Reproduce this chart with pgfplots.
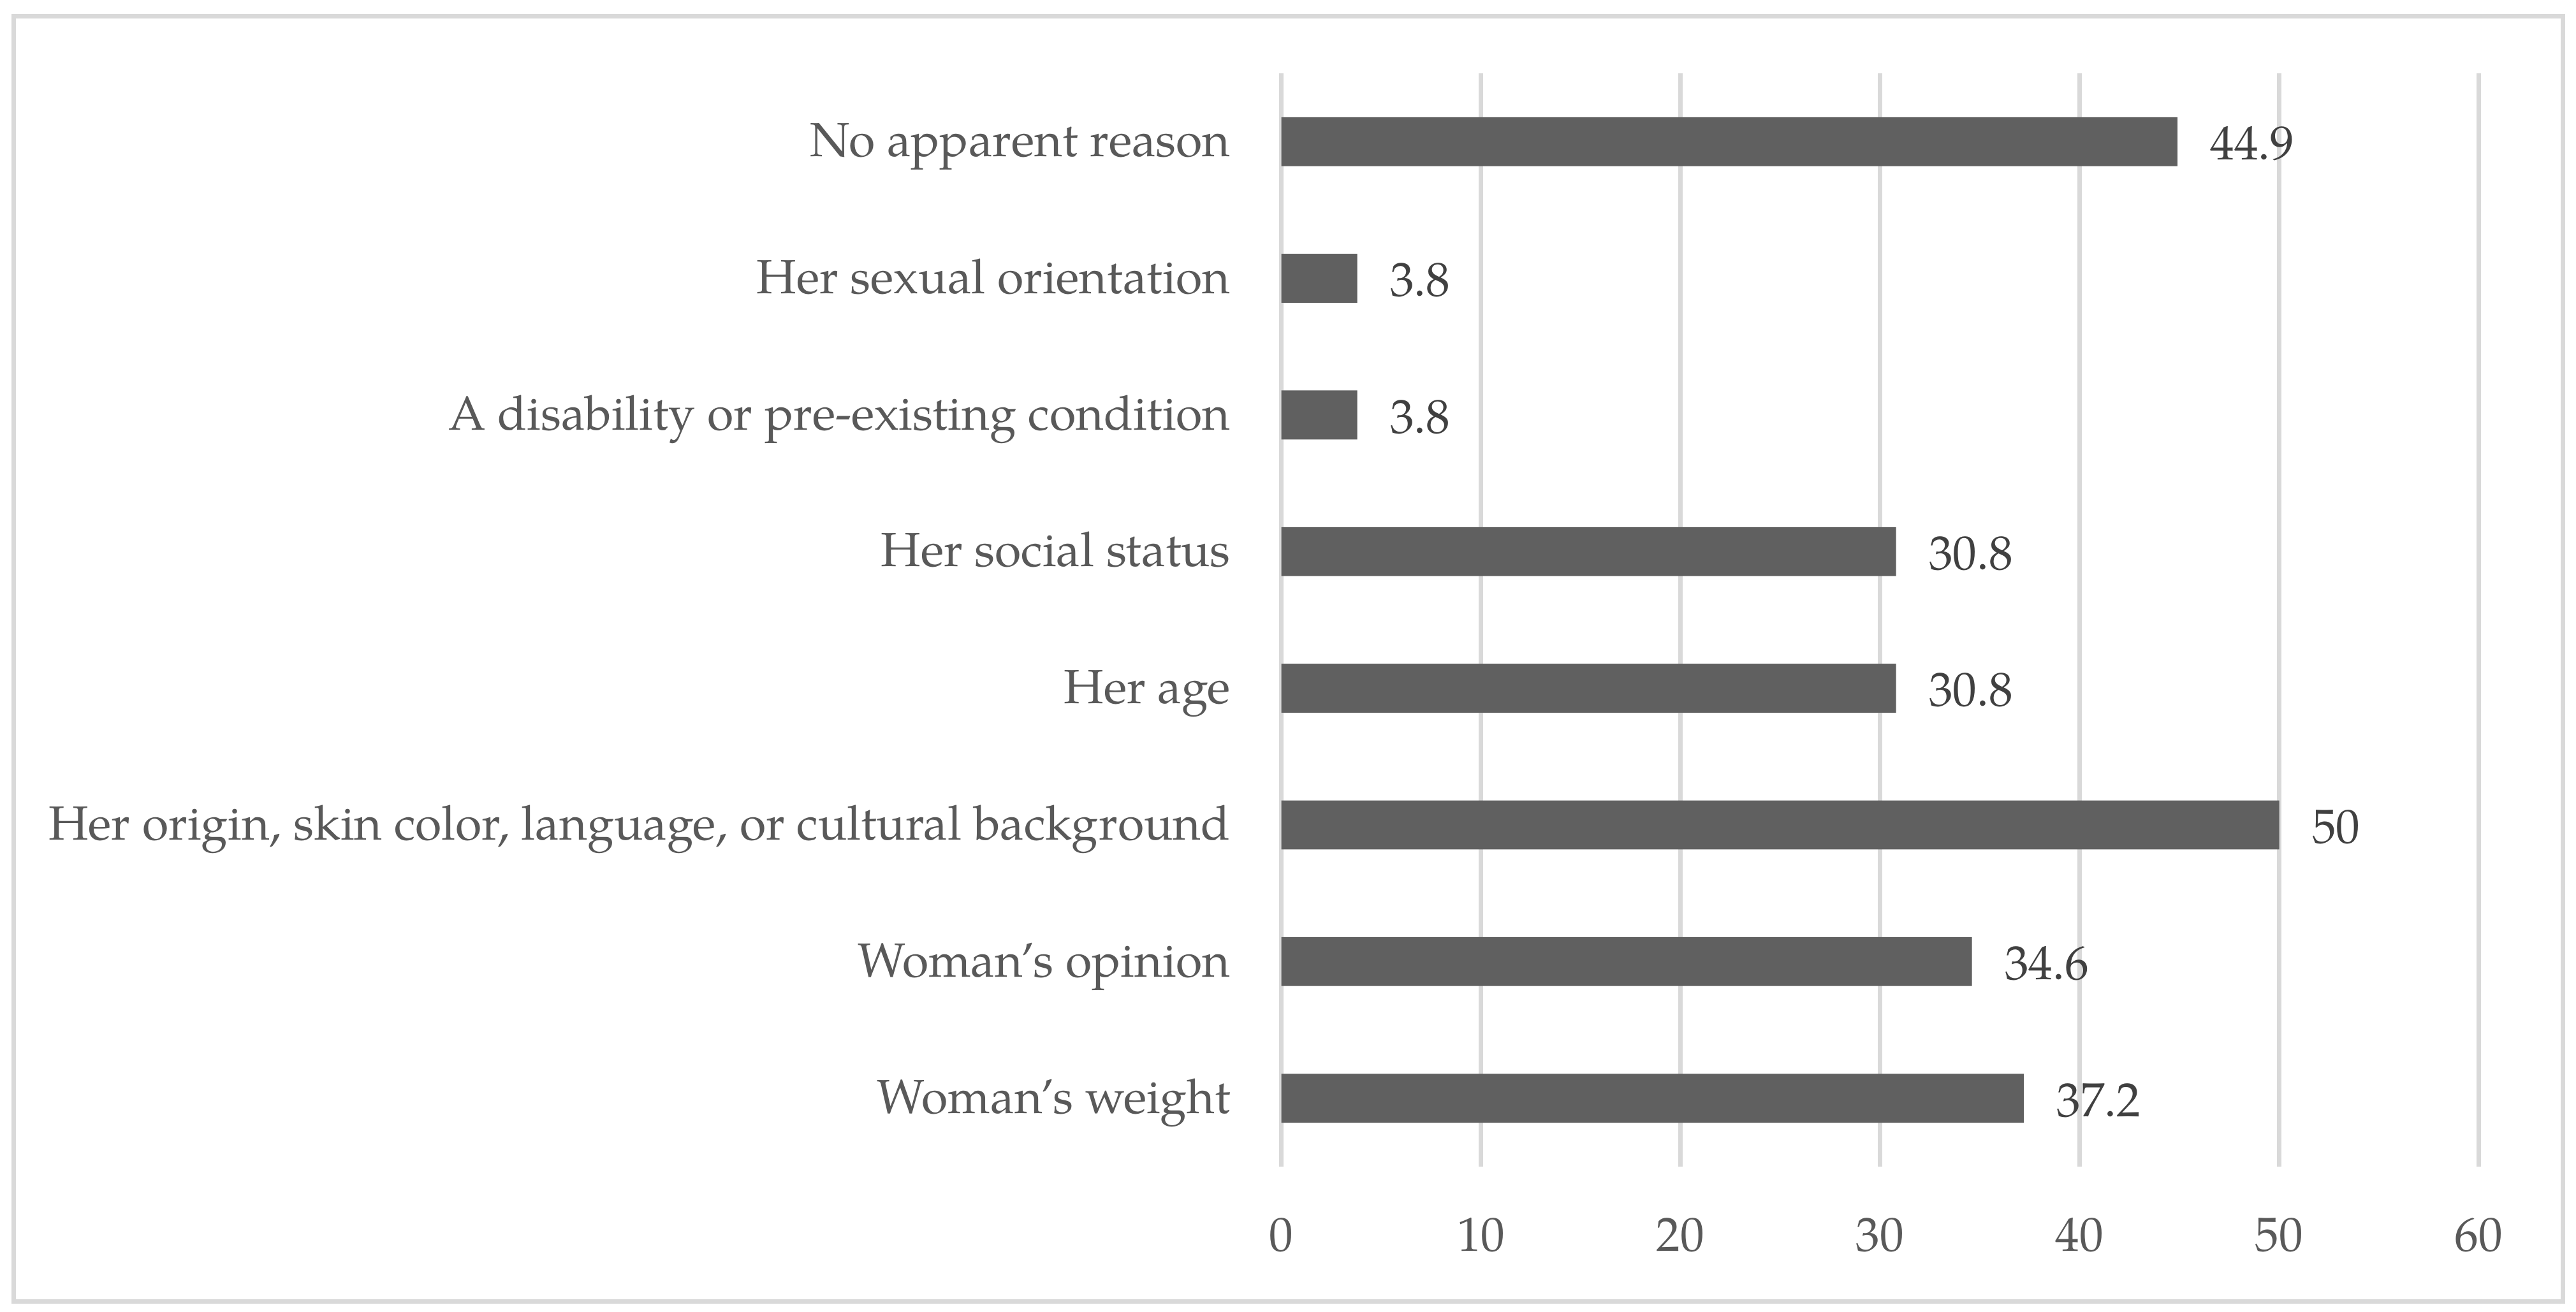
\documentclass[border=0pt]{standalone}
\usepackage{fontspec}
\setmainfont{TeX Gyre Pagella}
\usepackage{pgfplots}
\pgfplotsset{compat=1.18}

\definecolor{barfill}{HTML}{606060}
\definecolor{gridgray}{HTML}{D9D9D9}
\definecolor{labelgray}{HTML}{595959}
\definecolor{valuegray}{HTML}{404040}

\begin{document}
\begin{tikzpicture}
\begin{axis}[
    at={(0pt,0pt)}, anchor=south west,
    scale only axis,
    width=364.4pt, height=332.8pt,
    xbar,
    bar width=14.9pt,
    xmin=0, xmax=60,
    ymin=0.5, ymax=8.5,
    xtick={0,10,...,60},
    ytick={1,...,8},
    yticklabels={
        Woman’s weight,
        Woman’s opinion,
        {Her origin, skin color, language, or cultural background},
        Her age,
        Her social status,
        A disability or pre-existing condition,
        Her sexual orientation,
        No apparent reason
    },
    axis line style={draw=none},
    major tick length=0pt,
    xmajorgrids,
    grid style={draw=gridgray, line width=1.36pt},
    /pgf/number format/assume math mode=true,
    tick label style={font=\fontsize{14.6}{17}\selectfont, text=labelgray},
    xticklabel style={anchor=north, inner sep=0pt, yshift=-15.5pt},
    yticklabel style={anchor=base east, inner sep=0pt, xshift=-15.3pt, yshift=-4.6pt},
    nodes near coords,
    nodes near coords style={font=\fontsize{14.6}{17}\selectfont, text=valuegray,
        anchor=base west, inner sep=0pt, xshift=9.8pt, yshift=-5.5pt},
]
\addplot[fill=barfill, draw=none] coordinates {
    (37.2,1)
    (34.6,2)
    (50,3)
    (30.8,4)
    (30.8,5)
    (3.8,6)
    (3.8,7)
    (44.9,8)
};
\end{axis}
% chart frame and page size
\draw[gridgray, line width=1.36pt] (-385.8pt,-41.1pt) rectangle (390pt,350.2pt);
\path[use as bounding box] (-390pt,-44.1pt) rectangle (394pt,355.1pt);
\end{tikzpicture}
\end{document}
